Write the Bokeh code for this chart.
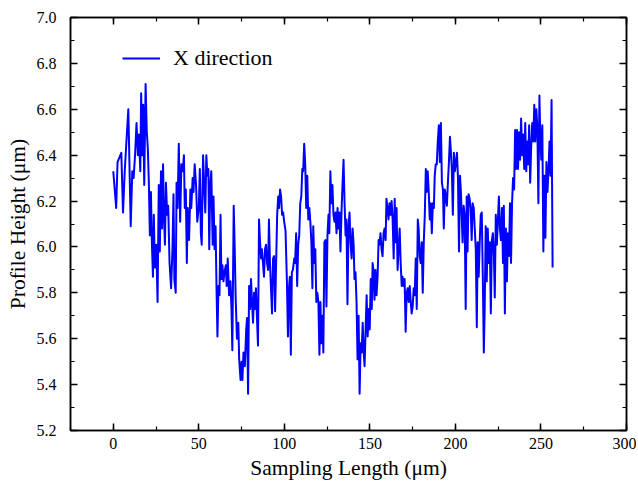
from bokeh.plotting import figure
from bokeh.models import (Range1d, LinearAxis, SingleIntervalTicker, PrintfTickFormatter,
                          Legend, LegendItem, CustomLabelingPolicy)
from bokeh.embed import file_html
from bokeh.resources import INLINE

# ---- data (Sampling Length in um, Profile Height in um) ----
x_seg1 = [0, 1.7, 2.5, 4.7, 5.7, 6.7, 7.7, 8.8, 10.2, 11.1, 11.9, 12.8, 13.6, 14.4, 15.0, 15.8, 16.3, 16.9, 17.5, 18.1,
          18.9, 19.6, 20.2, 20.8, 21.4, 22.0, 22.6, 23.2, 23.7, 24.3, 25.1, 25.9, 26.6, 27.2, 27.9, 28.5, 29.1, 29.6, 30.2, 30.8,
          31.5, 32.1, 32.9, 33.8, 34.6, 35.2, 35.7, 36.5, 37.0, 37.6, 38.3, 39.1, 39.8, 40.6, 41.3, 41.8, 42.4, 43.0, 43.5, 44.3,
          45.1, 45.6, 46.4, 46.9, 47.6, 48.4, 49.1]
y_seg1 = [6.33, 6.17, 6.37, 6.41, 6.15, 6.33, 6.46, 6.60, 6.09, 6.33, 6.30, 6.41, 6.54, 6.40, 6.49, 6.33, 6.67, 6.40, 6.62, 6.27,
          6.71, 6.50, 6.43, 6.28, 6.05, 6.24, 6.01, 5.87, 6.14, 5.91, 6.01, 5.76, 6.27, 5.98, 6.33, 6.08, 6.36, 6.14, 6.01, 6.28,
          6.14, 6.18, 5.93, 5.82, 5.99, 6.23, 5.86, 5.80, 6.28, 6.17, 6.45, 6.11, 6.36, 6.33, 6.40, 6.17, 6.25, 5.93, 6.17, 6.03,
          6.25, 6.17, 6.30, 6.24, 6.36, 6.27, 6.11]

x_seg2 = [50.0, 50.6, 51.2, 51.7, 52.5, 53.3, 53.8, 54.4, 55.0, 55.6, 56.1, 56.7, 57.3, 58.1, 58.6, 59.2, 59.8, 60.4, 60.9, 61.5,
          62.1, 62.7, 63.2, 63.8, 64.4, 65.0, 65.8, 66.3, 66.9, 67.7, 68.5, 69.1, 69.6, 70.4, 71.0, 71.5, 72.3, 73.1, 73.6, 74.4,
          75.0, 75.5, 76.1, 76.9, 77.7, 78.2, 78.8, 79.4, 80.0, 80.5, 81.1, 81.7, 82.3, 82.8, 83.4, 84.0, 84.6, 85.2, 85.8, 86.4,
          86.9, 87.5, 88.1, 88.7, 89.3, 89.9, 90.5, 91.0, 91.6, 92.2, 92.8, 93.4, 94.0, 94.6, 95.2, 95.8, 96.4, 96.9, 97.5, 98.1,
          98.7, 99.3, 99.9]
y_seg2 = [6.17, 6.34, 6.06, 6.01, 6.40, 6.24, 6.15, 6.40, 6.31, 6.34, 5.99, 6.27, 6.33, 6.01, 6.22, 5.99, 6.09, 5.80, 5.61, 5.83,
          5.79, 6.14, 5.86, 5.92, 5.85, 5.89, 5.92, 5.83, 5.95, 5.79, 5.85, 5.73, 5.55, 6.18, 5.99, 5.79, 5.60, 5.67, 5.51, 5.42,
          5.50, 5.42, 5.54, 5.48, 5.64, 5.69, 5.36, 5.83, 5.73, 5.86, 5.76, 5.67, 5.80, 5.73, 5.82, 5.69, 5.57, 6.12, 6.02, 5.95,
          5.99, 5.93, 5.87, 5.99, 6.01, 5.93, 5.90, 6.12, 5.93, 5.82, 5.71, 5.95, 5.96, 5.72, 5.93, 6.14, 6.22, 6.17, 6.25, 6.22,
          6.14, 6.15, 6.11]

x_seg3 = [100.7, 101.5, 102.1, 102.7, 103.2, 103.8, 104.4, 105.0, 105.8, 106.3, 106.9, 107.5, 108.1, 108.7, 109.3, 109.9, 110.5, 111.0, 111.6, 112.2,
          112.8, 113.4, 114.0, 114.6, 115.2, 115.8, 116.4, 116.9, 117.5, 118.1, 118.7, 119.3, 119.9, 120.5, 121.1, 121.6, 122.2, 122.8, 123.4, 124.0,
          124.6, 125.2, 125.8, 126.3, 126.9, 127.5, 128.1, 128.7, 129.3, 129.9, 130.5, 131.1, 131.6, 132.2, 132.8, 133.4, 134.0, 134.6, 135.2, 135.8,
          136.3, 136.9, 137.5, 138.1, 138.7, 139.3, 139.9, 140.5, 141.0, 141.6, 142.2, 142.8, 143.4, 144.0, 144.6, 145.2, 145.8, 146.3, 146.9, 147.5,
          148.1, 148.7, 149.3, 149.9, 150.5, 151.1, 151.6]
y_seg3 = [6.07, 5.85, 5.61, 5.82, 5.87, 5.53, 5.89, 5.90, 5.95, 5.93, 6.06, 5.83, 6.01, 6.05, 6.19, 6.22, 6.34, 6.33, 6.45, 6.36,
          6.17, 6.31, 6.12, 6.17, 6.11, 6.02, 5.82, 6.09, 5.93, 5.99, 5.76, 5.80, 5.76, 5.53, 5.76, 5.58, 5.70, 5.54, 6.02, 6.03,
          5.74, 6.05, 6.14, 6.06, 6.33, 6.19, 6.27, 6.14, 6.11, 6.15, 6.06, 6.17, 6.08, 6.15, 5.98, 6.15, 6.27, 6.38, 6.19, 6.05,
          6.12, 5.75, 6.09, 6.15, 6.02, 5.95, 6.08, 6.01, 5.86, 5.89, 5.76, 5.51, 5.70, 5.36, 5.58, 5.54, 5.67, 5.55, 5.48, 5.64,
          5.79, 5.61, 5.73, 5.64, 5.86, 5.73, 5.93]

x_seg4 = [152.1, 152.7, 153.3, 153.9, 154.5, 155.1, 155.6, 156.2, 156.8, 157.4, 158.0, 158.6, 159.2, 159.7, 160.3, 160.9, 161.5, 162.1, 162.7, 163.3,
          163.9, 164.5, 165.0, 165.6, 166.2, 166.8, 167.4, 168.0, 168.6, 169.1, 169.7, 170.3, 170.9, 171.5, 172.1, 172.7, 173.3, 173.8, 174.4, 175.0,
          175.6, 176.2, 176.8, 177.4, 178.0, 178.5, 179.1, 179.7, 180.3, 180.9, 181.5, 182.1, 182.7, 183.2, 183.8, 184.4, 185.0, 185.6, 186.2, 186.8,
          187.4, 187.9, 188.5, 189.1, 189.7, 190.3, 190.9, 191.5, 192.1, 192.7, 193.2, 193.8, 194.4, 195.0, 195.6, 196.2, 196.8, 197.4, 197.9, 198.5,
          199.1, 199.7, 200.3, 200.9, 201.5, 202.1, 202.7, 203.2]
y_seg4 = [5.90, 5.77, 5.90, 5.79, 5.87, 6.03, 6.01, 6.06, 5.99, 5.96, 6.06, 6.08, 6.03, 6.21, 6.17, 6.12, 6.19, 6.14, 6.20, 6.12,
          5.95, 6.21, 6.02, 6.17, 5.90, 5.99, 6.08, 5.93, 5.83, 5.87, 5.83, 5.86, 5.63, 5.80, 5.82, 5.76, 5.83, 5.77, 5.71, 5.74,
          5.82, 5.79, 5.95, 5.73, 6.12, 6.08, 5.96, 5.93, 6.02, 5.80, 6.02, 6.14, 6.34, 6.24, 6.33, 6.24, 6.12, 6.19, 6.06, 6.19,
          6.17, 6.31, 6.36, 6.36, 6.46, 6.53, 6.37, 6.54, 6.28, 6.25, 6.08, 6.25, 6.22, 6.18, 6.28, 6.37, 6.48, 6.41, 6.34, 6.14,
          6.41, 6.33, 6.37, 6.41, 6.30, 5.98, 6.31, 6.24]

x_seg5 = [204.2, 204.8, 205.4, 206.0, 206.6, 207.1, 207.7, 208.3, 208.9, 209.5, 210.1, 210.7, 211.3, 211.9, 212.5, 213.0, 213.6, 214.2, 214.8, 215.4,
          216.0, 216.6, 217.1, 217.7, 218.3, 218.9, 219.5, 220.1, 220.7, 221.3, 221.9, 222.5, 223.0, 223.6, 224.2, 224.8, 225.4, 226.0, 226.6, 227.2,
          227.8, 228.3, 228.9, 229.5, 230.1, 230.7, 231.3, 231.9, 232.5, 233.1, 233.7, 234.3, 234.9, 235.4, 236.0, 236.6, 237.2, 237.8, 238.4, 239.0,
          239.6, 240.2, 240.8, 241.4, 242.0, 242.5, 243.1, 243.7, 244.3, 244.9, 245.5, 246.1, 246.7, 247.3, 247.9, 248.5, 249.1, 249.6, 250.2, 250.8,
          251.4, 252.0, 252.6, 253.2, 253.8, 254.4, 255.0, 255.6, 256.2, 256.8]
y_seg5 = [6.02, 6.18, 6.14, 5.73, 6.22, 5.98, 6.23, 6.21, 6.17, 6.03, 6.19, 6.17, 6.08, 5.99, 5.65, 6.02, 5.87, 6.02, 6.14, 6.15,
          5.87, 5.54, 5.73, 6.09, 5.85, 6.08, 5.93, 6.02, 5.71, 6.03, 6.06, 5.96, 5.78, 6.14, 6.01, 6.11, 6.22, 6.08, 6.03, 6.17,
          5.93, 6.18, 5.71, 6.08, 5.85, 6.06, 5.96, 6.19, 5.93, 6.19, 6.30, 6.25, 6.51, 6.34, 6.51, 6.34, 6.50, 6.38, 6.56, 6.40,
          6.49, 6.34, 6.54, 6.33, 6.46, 6.36, 6.53, 6.28, 6.44, 6.54, 6.46, 6.62, 6.46, 6.60, 6.52, 6.19, 6.66, 6.49, 6.38, 6.53,
          5.98, 6.31, 6.04, 6.37, 6.24, 6.33, 6.46, 6.31, 6.64, 5.91]

series_label = "X direction"
x_label = "Sampling Length (\u03bcm)"
y_label = "Profile Height (\u03bcm)"

sampling_length = x_seg1 + x_seg2 + x_seg3 + x_seg4 + x_seg5
profile_height = y_seg1 + y_seg2 + y_seg3 + y_seg4 + y_seg5
if len(sampling_length) != len(profile_height):
    raise ValueError("length mismatch %d %d" % (len(sampling_length), len(profile_height)))

FONT = "Liberation Serif"

p = figure(width=636, height=486, output_backend="svg", toolbar_location=None,
           x_range=Range1d(-25, 300), y_range=Range1d(5.2, 7.0),
           x_axis_location=None, y_axis_location=None,
           min_border_left=70, min_border_right=10, min_border_top=17, min_border_bottom=56)
p.xgrid.visible = False
p.ygrid.visible = False
p.outline_line_color = "black"
p.outline_line_width = 1.5
p.background_fill_color = "white"
p.border_fill_color = "white"

no_labels = CustomLabelingPolicy(code="""
for (const i of Array.from(indices)) { indices.unset(i) }
return indices
""")


def style_axis(ax, show_labels):
    ax.axis_line_width = 1.5
    ax.axis_line_color = "black"
    ax.major_tick_in = 7
    ax.major_tick_out = 0
    ax.minor_tick_in = 4
    ax.minor_tick_out = 0
    ax.major_tick_line_width = 1.5
    ax.minor_tick_line_width = 1.2
    if show_labels:
        ax.major_label_text_font = FONT
        ax.major_label_text_font_size = "16px"
        ax.major_label_text_color = "black"
        ax.axis_label_text_font = FONT
        ax.axis_label_text_font_size = "21.5px"
        ax.axis_label_text_font_style = "normal"
        ax.axis_label_text_color = "black"
    else:
        ax.major_label_text_font_size = "1px"
        ax.major_label_standoff = 0
        ax.major_label_policy = no_labels


xb = LinearAxis(ticker=SingleIntervalTicker(interval=50, num_minor_ticks=2), axis_label=x_label)
style_axis(xb, True)
xb.major_label_standoff = 7
xb.axis_label_standoff = 4
p.add_layout(xb, "below")

yl = LinearAxis(ticker=SingleIntervalTicker(interval=0.2, num_minor_ticks=2), axis_label=y_label,
                formatter=PrintfTickFormatter(format="%.1f"))
style_axis(yl, True)
yl.major_label_standoff = 14
yl.axis_label_standoff = 4
p.add_layout(yl, "left")

xt = LinearAxis(ticker=SingleIntervalTicker(interval=50, num_minor_ticks=2))
style_axis(xt, False)
p.add_layout(xt, "above")

yr = LinearAxis(ticker=SingleIntervalTicker(interval=0.2, num_minor_ticks=2))
style_axis(yr, False)
p.add_layout(yr, "right")

r = p.line(sampling_length, profile_height, line_color="#0000FF", line_width=2, line_join="round")

legend = Legend(items=[LegendItem(label=series_label, renderers=[r])], location=(52, 359),
                label_text_font=FONT, label_text_font_size="22px", label_text_color="black",
                glyph_width=38, glyph_height=20, label_standoff=13, padding=0, margin=0,
                border_line_alpha=0, background_fill_alpha=0)
p.add_layout(legend)

open("out.html", "w").write(file_html(p, INLINE))
